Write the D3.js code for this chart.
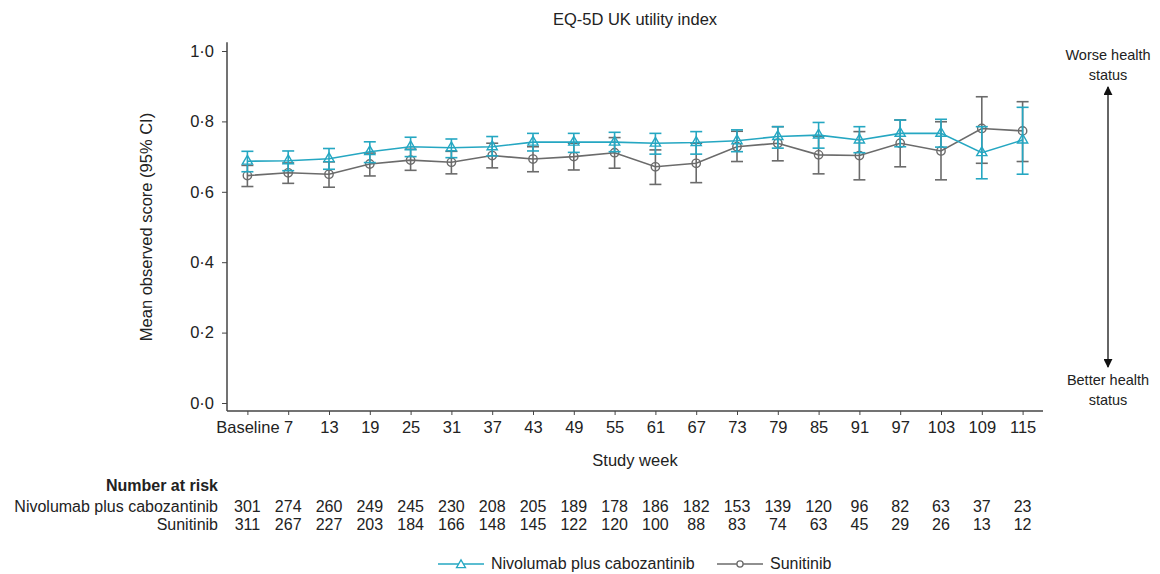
<!DOCTYPE html>
<html>
<head>
<meta charset="utf-8">
<script src="https://cdn.jsdelivr.net/npm/d3@7"></script>
<style>
  body { margin: 0; background: #fff; }
  text { font-family: "Liberation Sans", Arial, Helvetica, sans-serif; fill: #222; }
</style>
</head>
<body>
<script>
const weeks = ["Baseline", "7", "13", "19", "25", "31", "37", "43", "49", "55",
    "61", "67", "73", "79", "85", "91", "97", "103", "109", "115"];

const nivoMean = [0.687, 0.688, 0.694, 0.714, 0.728, 0.725, 0.728, 0.741, 0.741, 0.741,
    0.738, 0.740, 0.745, 0.757, 0.761, 0.747, 0.766, 0.766, 0.711, 0.747];
const nivoLo = [0.657, 0.660, 0.664, 0.683, 0.700, 0.697, 0.702, 0.716, 0.712, 0.714,
    0.707, 0.707, 0.714, 0.724, 0.724, 0.711, 0.728, 0.727, 0.637, 0.650];
const nivoHi = [0.715, 0.716, 0.723, 0.742, 0.755, 0.750, 0.757, 0.766, 0.766, 0.769,
    0.766, 0.771, 0.776, 0.785, 0.797, 0.785, 0.804, 0.806, 0.785, 0.840];

const sunMean = [0.646, 0.654, 0.650, 0.679, 0.690, 0.684, 0.703, 0.693, 0.700, 0.711,
    0.671, 0.681, 0.728, 0.738, 0.705, 0.703, 0.738, 0.716, 0.780, 0.773];
const sunLo = [0.615, 0.624, 0.613, 0.645, 0.661, 0.651, 0.668, 0.657, 0.662, 0.667,
    0.621, 0.626, 0.686, 0.688, 0.651, 0.634, 0.671, 0.634, 0.681, 0.686];
const sunHi = [0.675, 0.682, 0.685, 0.710, 0.721, 0.715, 0.738, 0.728, 0.738, 0.754,
    0.719, 0.738, 0.772, 0.785, 0.758, 0.771, 0.804, 0.799, 0.870, 0.856];

const nivoRisk = [301, 274, 260, 249, 245, 230, 208, 205, 189, 178, 186, 182, 153, 139, 120, 96, 82, 63, 37, 23];
const sunRisk = [311, 267, 227, 203, 184, 166, 148, 145, 122, 120, 100, 88, 83, 74, 63, 45, 29, 26, 13, 12];

const yTicks = [0, 0.2, 0.4, 0.6, 0.8, 1.0];

const teal = "#25a7c2",
    grey = "#6b6b6b",
    axisColor = "#444";

const W = 1160, H = 574;
const margin = {top: 51, right: 117, bottom: 171, left: 227};

let svg = d3.select("body")
    .append("svg")
    .attr("width", W)
    .attr("height", H);

let xScale = d3.scalePoint()
    .domain(weeks)
    .range([margin.left, W - margin.right])
    .padding(0.5);

let yScale = d3.scaleLinear()
    .domain([0, 1])
    .range([H - margin.bottom, margin.top]);

// title
svg.append("text")
    .attr("x", (margin.left + W - margin.right) / 2)
    .attr("y", 25)
    .attr("text-anchor", "middle")
    .style("font-size", "16.5px")
    .text("EQ-5D UK utility index");

// y axis
let yAxis = svg.append("g")
    .attr("transform", "translate(" + margin.left + ",0)")
    .call(d3.axisLeft(yScale)
        .tickValues(yTicks)
        .tickSize(5)
        .tickPadding(8)
        .tickFormat(d => d3.format(".1f")(d).replace(".", "·")));
yAxis.select(".domain").remove();
yAxis.selectAll("line").attr("stroke", axisColor);
yAxis.selectAll("text").style("font-size", "16.5px").attr("fill", "#222");

// x axis, sits a little below zero
const xAxisY = yScale(0) + 8;
let xAxis = svg.append("g")
    .attr("transform", "translate(0," + xAxisY + ")")
    .call(d3.axisBottom(xScale).tickSize(4).tickPadding(6));
xAxis.select(".domain").remove();
xAxis.selectAll("line").attr("stroke", axisColor);
xAxis.selectAll("text").style("font-size", "16.5px").attr("fill", "#222");

svg.append("line")
    .attr("x1", margin.left).attr("x2", margin.left)
    .attr("y1", yScale(1.025)).attr("y2", xAxisY)
    .attr("stroke", axisColor).attr("stroke-width", 1.5);
svg.append("line")
    .attr("x1", margin.left).attr("x2", W - margin.right)
    .attr("y1", xAxisY).attr("y2", xAxisY)
    .attr("stroke", axisColor).attr("stroke-width", 1.5);

// axis labels
svg.append("text")
    .attr("transform", "translate(152," + yScale(0.5) + ") rotate(-90)")
    .attr("text-anchor", "middle")
    .style("font-size", "16.5px")
    .text("Mean observed score (95% CI)");

svg.append("text")
    .attr("x", (margin.left + W - margin.right) / 2)
    .attr("y", 466)
    .attr("text-anchor", "middle")
    .style("font-size", "16.5px")
    .text("Study week");

// series
function drawSeries(mean, lo, hi, color, shape) {
    let g = svg.append("g");
    let pts = weeks.map((w, i) => ({w: w, m: mean[i], lo: lo[i], hi: hi[i]}));

    g.append("path")
        .datum(pts)
        .attr("fill", "none")
        .attr("stroke", color)
        .attr("stroke-width", 1.6)
        .attr("d", d3.line().x(d => xScale(d.w)).y(d => yScale(d.m)));

    let bars = g.selectAll(".err")
        .data(pts)
        .enter()
        .append("g")
        .attr("stroke", color)
        .attr("stroke-width", 1.6);
    bars.append("line")
        .attr("x1", d => xScale(d.w)).attr("x2", d => xScale(d.w))
        .attr("y1", d => yScale(d.lo)).attr("y2", d => yScale(d.hi));
    bars.append("line")
        .attr("x1", d => xScale(d.w) - 6).attr("x2", d => xScale(d.w) + 6)
        .attr("y1", d => yScale(d.lo)).attr("y2", d => yScale(d.lo));
    bars.append("line")
        .attr("x1", d => xScale(d.w) - 6).attr("x2", d => xScale(d.w) + 6)
        .attr("y1", d => yScale(d.hi)).attr("y2", d => yScale(d.hi));

    g.selectAll(".mk")
        .data(pts)
        .enter()
        .append("path")
        .attr("transform", d => "translate(" + xScale(d.w) + "," + yScale(d.m) + ")")
        .attr("d", d3.symbol().type(shape).size(shape === d3.symbolCircle ? 55 : 45))
        .attr("fill", "none")
        .attr("stroke", color)
        .attr("stroke-width", 1.4);
}

drawSeries(sunMean, sunLo, sunHi, grey, d3.symbolCircle);
drawSeries(nivoMean, nivoLo, nivoHi, teal, d3.symbolTriangle);

// direction arrow on the right
const arrowX = 1108;
let defs = svg.append("defs");
defs.append("marker")
    .attr("id", "arrowhead")
    .attr("viewBox", "0 0 10 10")
    .attr("refX", 9).attr("refY", 5)
    .attr("markerWidth", 9).attr("markerHeight", 9)
    .attr("markerUnits", "userSpaceOnUse")
    .attr("orient", "auto-start-reverse")
    .append("path")
    .attr("d", "M0,0 L10,5 L0,10 z")
    .attr("fill", "#111");

svg.append("line")
    .attr("x1", arrowX).attr("x2", arrowX)
    .attr("y1", 87).attr("y2", 367)
    .attr("stroke", "#333")
    .attr("stroke-width", 1.5)
    .attr("marker-start", "url(#arrowhead)")
    .attr("marker-end", "url(#arrowhead)");

[["Worse health", 60], ["status", 80], ["Better health", 385], ["status", 405]].forEach(t => {
    svg.append("text")
        .attr("x", arrowX)
        .attr("y", t[1])
        .attr("text-anchor", "middle")
        .style("font-size", "14.5px")
        .text(t[0]);
});

// number at risk table
const labelX = 218;
svg.append("text")
    .attr("x", labelX).attr("y", 491)
    .attr("text-anchor", "end")
    .style("font-size", "16px")
    .style("font-weight", "bold")
    .text("Number at risk");

[["Nivolumab plus cabozantinib", nivoRisk, 512], ["Sunitinib", sunRisk, 530]].forEach(row => {
    svg.append("text")
        .attr("x", labelX).attr("y", row[2])
        .attr("text-anchor", "end")
        .style("font-size", "16px")
        .text(row[0]);
    svg.selectAll(null)
        .data(row[1])
        .enter()
        .append("text")
        .attr("x", (d, i) => xScale(weeks[i]))
        .attr("y", row[2])
        .attr("text-anchor", "middle")
        .style("font-size", "16px")
        .text(d => d);
});

// legend
const legendY = 564;
[["Nivolumab plus cabozantinib", teal, d3.symbolTriangle, 438], ["Sunitinib", grey, d3.symbolCircle, 717]].forEach(l => {
    let g = svg.append("g");
    g.append("line")
        .attr("x1", l[3]).attr("x2", l[3] + 46)
        .attr("y1", legendY).attr("y2", legendY)
        .attr("stroke", l[1]).attr("stroke-width", 1.5);
    g.append("path")
        .attr("transform", "translate(" + (l[3] + 23) + "," + (legendY + (l[2] === d3.symbolTriangle ? 1 : 0)) + ")")
        .attr("d", d3.symbol().type(l[2]).size(l[2] === d3.symbolCircle ? 30 : 35))
        .attr("fill", "#fff")
        .attr("stroke", l[1]).attr("stroke-width", 1.3);
    g.append("text")
        .attr("x", l[3] + 53).attr("y", legendY + 5)
        .style("font-size", "16px")
        .text(l[0]);
});
</script>
</body>
</html>
